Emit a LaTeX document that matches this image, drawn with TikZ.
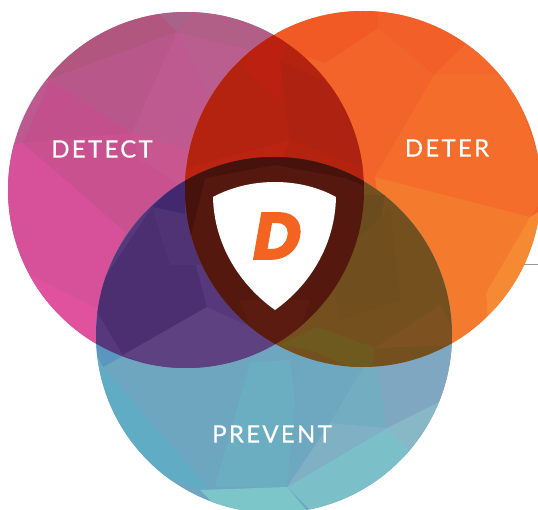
\documentclass[tikz,border=0pt]{standalone}
\usepackage{fontspec}
\setmainfont{Lato}
\newfontfamily\lblfont[LetterSpace=9.5,FakeBold=0.4]{Lato}
\newfontfamily\dfont[FakeBold=2]{Poppins}
\newcommand\clipA{\clip (186,190) circle[radius=178];}
\newcommand\clipB{\clip (363,189) circle[radius=178];}
\newcommand\clipC{\clip (274,335) circle[radius=178];}
\newcommand\fc[2]{\definecolor{tmpc}{HTML}{#1}\fill[tmpc] #2 -- cycle;}
\newcommand\base[1]{\definecolor{tmpc}{HTML}{#1}\fill[tmpc] (-10,-10) rectangle (560,530);}
\tikzset{lbl/.style={text=white,font=\lblfont\fontsize{24}{24}\selectfont,inner sep=0pt,anchor=center}}
\begin{document}
\begin{tikzpicture}[x=1pt,y=-1pt]
\useasboundingbox (0,0) rectangle (538,510);
\fill[white] (0,0) rectangle (538,510);
\coordinate (lineA) at (520,264);
\coordinate (lineB) at (538,264);
\draw[color=black!40,line width=0.7pt] (lineA) -- (lineB);
% DETECT circle
\begin{scope}
\clipA
\base{BC5A90}
\fc{A8638A}{(150,5) -- (177,32) -- (200,5)}
\fc{B25F88}{(177,32) -- (200,5) -- (290,30) -- (250,50)}
\fc{BA5D8F}{(177,32) -- (250,50) -- (210,100)}
\fc{B0567F}{(47,80) -- (177,32) -- (150,5) -- (90,20)}
\fc{B8588A}{(47,80) -- (177,32) -- (132,133)}
\fc{C2508C}{(50,80) -- (23,143) -- (132,133)}
\fc{CA518F}{(23,143) -- (132,133) -- (140,160) -- (190,190) -- (125,232)}
\fc{BE5A90}{(132,133) -- (177,32) -- (210,100) -- (190,155) -- (140,155)}
\fc{C9578F}{(132,133) -- (140,160) -- (190,190) -- (190,150)}
\fc{D6509A}{(0,145) -- (23,143) -- (125,232) -- (100,310) -- (0,300)}
\fc{E0519E}{(0,260) -- (100,310) -- (96,345) -- (60,345)}
\end{scope}
% DETER circle
\begin{scope}
\clipB
\base{F2642A}
\fc{F15A24}{(270,20) -- (378,5) -- (378,28) -- (325,63) -- (285,50)}
\fc{F1602A}{(378,5) -- (434,75) -- (378,28)}
\fc{F25F28}{(378,5) -- (470,30) -- (510,60) -- (434,75)}
\fc{F4692B}{(470,40) -- (530,90) -- (434,75)}
\fc{F46D2A}{(434,75) -- (510,75) -- (550,190) -- (530,217) -- (375,177)}
\fc{F47A2E}{(375,177) -- (530,217) -- (486,293) -- (490,360) -- (400,360)}
\fc{F58A33}{(530,217) -- (550,205) -- (550,290) -- (490,360) -- (486,293)}
\end{scope}
% PREVENT circle
\begin{scope}
\clipC
\base{6FA6BF}
\fc{5FACC4}{(90,340) -- (103,367) -- (210,490) -- (130,470) -- (80,400)}
\fc{5A97C0}{(90,340) -- (125,355) -- (103,367)}
\fc{6BAEC2}{(250,363) -- (290,360) -- (300,440) -- (287,487) -- (215,487)}
\fc{6DA8C0}{(300,350) -- (375,348) -- (330,423) -- (287,487)}
\fc{72ADC2}{(375,348) -- (387,428) -- (330,423)}
\fc{80A7C2}{(375,348) -- (460,340) -- (443,400) -- (387,428)}
\fc{88B7C5}{(387,428) -- (443,400) -- (470,400) -- (420,470)}
\fc{7BBFC8}{(287,487) -- (387,428) -- (430,470) -- (350,520) -- (320,520)}
\fc{80B0C4}{(330,423) -- (387,428) -- (287,487)}
\fc{7CC6CA}{(200,490) -- (287,487) -- (315,520) -- (230,520)}
\end{scope}
% DETECT and DETER
\begin{scope}
\clipA\clipB
\base{B4230F}
\fc{BC2011}{(250,40) -- (285,30) -- (280,100) -- (245,70)}
\fc{AD2210}{(280,60) -- (340,90) -- (370,170) -- (290,140)}
\fc{BA2410}{(180,170) -- (290,140) -- (280,165) -- (190,185)}
\end{scope}
% DETECT and PREVENT
\begin{scope}
\clipA\clipC
\base{57387C}
\fc{42296F}{(185,175) -- (152,207) -- (185,225)}
\fc{4C2F70}{(90,300) -- (152,207) -- (185,225) -- (207,307) -- (123,355)}
\fc{4F3375}{(152,207) -- (170,265) -- (207,265) -- (190,215)}
\fc{5E4180}{(123,355) -- (207,307) -- (290,345) -- (186,380)}
\end{scope}
% DETER and PREVENT
\begin{scope}
\clipB\clipC
\base{74501F}
\fc{6A4C1E}{(345,195) -- (385,195) -- (375,250) -- (330,260)}
\fc{704E1E}{(330,260) -- (390,210) -- (400,300) -- (340,320)}
\fc{7E5220}{(375,348) -- (440,305) -- (460,345)}
\fc{6E5A1E}{(317,327) -- (375,348) -- (370,375) -- (310,350) -- (280,345)}
\end{scope}
% all three
\begin{scope}
\clipA\clipB\clipC
\base{55180F}
\fc{47110C}{(170,140) -- (380,140) -- (375,190) -- (345,178) -- (275,165) -- (205,178) -- (190,240) -- (170,240)}
\fc{5C1B10}{(240,300) -- (310,300) -- (290,360) -- (260,360)}
\end{scope}
% shield
\fill[white] (213,197) .. controls (250,177) and (300,177) .. (336,197)
  .. controls (335,245) and (310,285) .. (275,310)
  .. controls (240,285) and (214,245) .. (213,197) -- cycle;
\definecolor{dorange}{HTML}{F36421}
\node[text=dorange,font=\dfont\bfseries\itshape\fontsize{66}{66}\selectfont,inner sep=0pt] (dlogo) at (277,236) {D};
\node[lbl] (detect) at (102,149) {DETECT};
\node[lbl] (deter) at (447,148) {DETER};
\node[lbl] (prevent) at (272,434) {PREVENT};
\end{tikzpicture}
\end{document}
